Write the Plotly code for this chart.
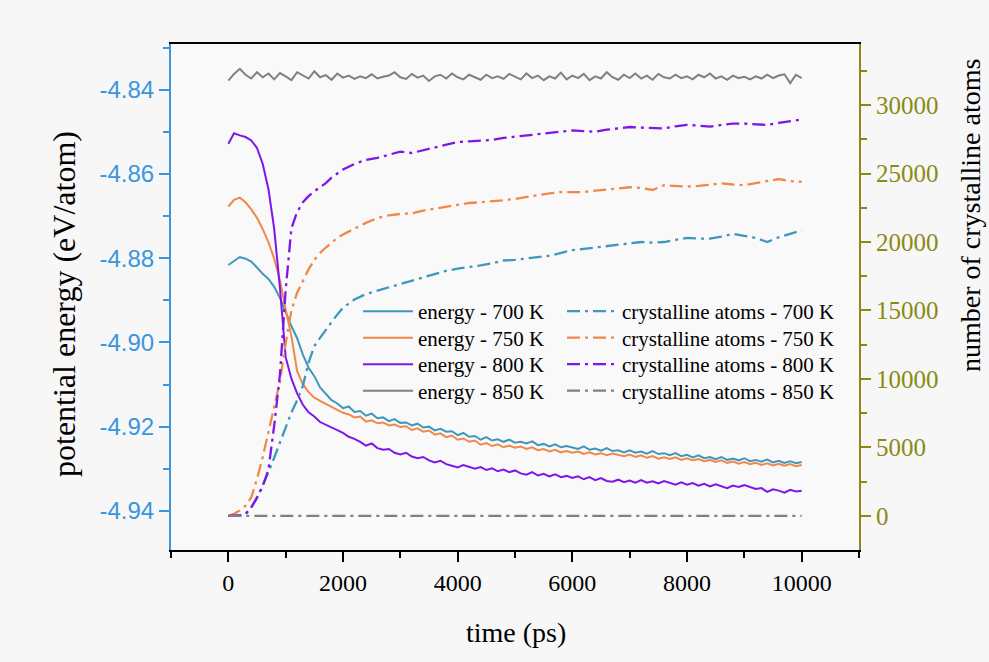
import plotly.graph_objects as go

# ---------------- data ----------------
t_energy = list(range(0, 10001, 100))
t_cryst = list(range(0, 2000, 100)) + list(range(2000, 10001, 200))

e700 = [
    -4.8816, -4.8806, -4.8797, -4.8801, -4.8808, -4.8822, -4.8837, -4.8849, -4.8868, -4.8894,
    -4.8929, -4.8961, -4.8990, -4.9029, -4.9060, -4.9080, -4.9107, -4.9122, -4.9137, -4.9145,
    -4.9156, -4.9152, -4.9165, -4.9163, -4.9174, -4.9169, -4.9180, -4.9178, -4.9187, -4.9182,
    -4.9191, -4.9190, -4.9197, -4.9193, -4.9202, -4.9200, -4.9209, -4.9205, -4.9212, -4.9211,
    -4.9220, -4.9215, -4.9224, -4.9222, -4.9231, -4.9225, -4.9233, -4.9230, -4.9236, -4.9231,
    -4.9238, -4.9236, -4.9240, -4.9235, -4.9244, -4.9241, -4.9247, -4.9242, -4.9249, -4.9246,
    -4.9250, -4.9253, -4.9247, -4.9255, -4.9252, -4.9257, -4.9251, -4.9258, -4.9256, -4.9261,
    -4.9256, -4.9262, -4.9259, -4.9264, -4.9258, -4.9265, -4.9263, -4.9268, -4.9263, -4.9270,
    -4.9267, -4.9273, -4.9268, -4.9275, -4.9272, -4.9277, -4.9272, -4.9279, -4.9276, -4.9280,
    -4.9275, -4.9282, -4.9279, -4.9283, -4.9278, -4.9285, -4.9281, -4.9286, -4.9282, -4.9287,
    -4.9284]

e750 = [
    -4.8677, -4.8661, -4.8656, -4.8667, -4.8684, -4.8704, -4.8731, -4.8762, -4.8801, -4.8852,
    -4.8922, -4.8985, -4.9068, -4.9099, -4.9118, -4.9131, -4.9139, -4.9146, -4.9154, -4.9160,
    -4.9167, -4.9171, -4.9178, -4.9176, -4.9188, -4.9185, -4.9192, -4.9190, -4.9197, -4.9195,
    -4.9201, -4.9199, -4.9208, -4.9204, -4.9212, -4.9209, -4.9219, -4.9216, -4.9225, -4.9221,
    -4.9231, -4.9228, -4.9236, -4.9233, -4.9243, -4.9239, -4.9246, -4.9242, -4.9249, -4.9245,
    -4.9250, -4.9247, -4.9253, -4.9249, -4.9256, -4.9253, -4.9259, -4.9255, -4.9261, -4.9258,
    -4.9262, -4.9259, -4.9265, -4.9261, -4.9266, -4.9263, -4.9268, -4.9264, -4.9267, -4.9270,
    -4.9266, -4.9272, -4.9268, -4.9274, -4.9270, -4.9276, -4.9273, -4.9277, -4.9273, -4.9279,
    -4.9275, -4.9280, -4.9277, -4.9282, -4.9279, -4.9284, -4.9280, -4.9286, -4.9283, -4.9288,
    -4.9284, -4.9289, -4.9286, -4.9291, -4.9287, -4.9292, -4.9288, -4.9293, -4.9289, -4.9294,
    -4.9291]

e800 = [
    -4.8528, -4.8503, -4.8508, -4.8512, -4.8520, -4.8538, -4.8576, -4.8636, -4.8730, -4.8870,
    -4.9035, -4.9086, -4.9121, -4.9148, -4.9166, -4.9176, -4.9189, -4.9196, -4.9203, -4.9210,
    -4.9215, -4.9224, -4.9229, -4.9236, -4.9245, -4.9240, -4.9251, -4.9255, -4.9253, -4.9262,
    -4.9266, -4.9262, -4.9271, -4.9275, -4.9272, -4.9280, -4.9285, -4.9281, -4.9289, -4.9293,
    -4.9297, -4.9291, -4.9296, -4.9300, -4.9296, -4.9303, -4.9299, -4.9306, -4.9302, -4.9308,
    -4.9304, -4.9311, -4.9314, -4.9308, -4.9316, -4.9312, -4.9318, -4.9313, -4.9320, -4.9317,
    -4.9322, -4.9318, -4.9325, -4.9320, -4.9327, -4.9322, -4.9329, -4.9331, -4.9326, -4.9332,
    -4.9328, -4.9333, -4.9327, -4.9333, -4.9330, -4.9335, -4.9329, -4.9334, -4.9338, -4.9332,
    -4.9338, -4.9334, -4.9340, -4.9336, -4.9342, -4.9337, -4.9341, -4.9346, -4.9340, -4.9343,
    -4.9339, -4.9344, -4.9348, -4.9346, -4.9355, -4.9349, -4.9352, -4.9357, -4.9350, -4.9354,
    -4.9352]

e850 = [
    -4.8378, -4.8362, -4.8350, -4.8364, -4.8373, -4.8358, -4.8370, -4.8361, -4.8375, -4.8360,
    -4.8368, -4.8377, -4.8358, -4.8366, -4.8373, -4.8356, -4.8370, -4.8365, -4.8376, -4.8361,
    -4.8371, -4.8366, -4.8374, -4.8368, -4.8372, -4.8363, -4.8373, -4.8369, -4.8366, -4.8358,
    -4.8370, -4.8374, -4.8362, -4.8371, -4.8366, -4.8379, -4.8368, -4.8364, -4.8373, -4.8361,
    -4.8370, -4.8375, -4.8364, -4.8370, -4.8376, -4.8364, -4.8372, -4.8368, -4.8374, -4.8362,
    -4.8368, -4.8375, -4.8361, -4.8372, -4.8366, -4.8377, -4.8368, -4.8373, -4.8359, -4.8375,
    -4.8366, -4.8372, -4.8362, -4.8377, -4.8368, -4.8373, -4.8358, -4.8370, -4.8376, -4.8364,
    -4.8372, -4.8361, -4.8373, -4.8366, -4.8376, -4.8362, -4.8370, -4.8373, -4.8364, -4.8372,
    -4.8368, -4.8375, -4.8364, -4.8370, -4.8361, -4.8373, -4.8368, -4.8376, -4.8366, -4.8372,
    -4.8369, -4.8375, -4.8368, -4.8373, -4.8364, -4.8372, -4.8366, -4.8363, -4.8384, -4.8364,
    -4.8372]

c700 = [
    0, 0, 0, 100, 650, 1300, 2200, 3200, 4250, 5400,
    6550, 7550, 8450, 9500, 11200, 12400, 13000, 13600, 14150, 14700,
    15200, 15800, 16200, 16450, 16700, 16950, 17200, 17450, 17650, 17900,
    18050, 18150, 18300, 18450, 18650, 18700, 18780, 18900, 19000, 19200,
    19400, 19500, 19600, 19700, 19750, 19900, 20000, 19950, 20000, 20150,
    20300, 20250, 20250, 20400, 20600, 20450, 20300, 20000, 20350, 20600,
    20850]

c750 = [
    0, 150, 400, 750, 1350, 2700, 4300, 6100, 8000, 9800,
    12600, 15000, 16300, 17200, 18000, 18700, 19200, 19600, 19950, 20300,
    20550, 21000, 21400, 21750, 21950, 22050, 22100, 22300, 22450, 22600,
    22750, 22850, 22900, 22950, 23050, 23150, 23300, 23400, 23550, 23650,
    23650, 23650, 23750, 23850, 23900, 24000, 23950, 23800, 24150, 24100,
    24050, 24100, 24200, 24280, 24200, 24150, 24300, 24450, 24600, 24450,
    24400]

c800 = [
    0, 0, 50, 150, 600, 1350, 2150, 3400, 6600, 10300,
    16500, 21000, 22200, 22900, 23350, 23700, 24000, 24300, 24700, 25000,
    25300, 25700, 26000, 26150, 26400, 26600, 26500, 26700, 26950, 27100,
    27300, 27350, 27400, 27450, 27600, 27700, 27800, 27850, 27950, 28050,
    28150, 28100, 28050, 28200, 28300, 28400, 28350, 28350, 28300, 28450,
    28550, 28500, 28420, 28550, 28650, 28650, 28600, 28550, 28700, 28850,
    28950]

c850 = [
    0, 0, 0, 0, 0, 0, 0, 0, 0, 0,
    0, 0, 0, 0, 0, 0, 0, 0, 0, 0,
    0, 0, 0, 0, 0, 0, 0, 0, 0, 0,
    0, 0, 0, 0, 0, 0, 0, 0, 0, 0,
    0, 0, 0, 0, 0, 0, 0, 0, 0, 0,
    0, 0, 0, 0, 0, 0, 0, 0, 0, 0,
    0]

temps = ["700 K", "750 K", "800 K", "850 K"]
energy_series = [e700, e750, e800, e850]
cryst_series = [c700, c750, c800, c850]

x_ticks = [0, 2000, 4000, 6000, 8000, 10000]
e_ticks = [-4.94, -4.92, -4.90, -4.88, -4.86, -4.84]
e_ticktext = ["-4.94", "-4.92", "-4.90", "-4.88", "-4.86", "-4.84"]

# ---------------- style ----------------
colors = ["#3f97bd", "#f0884a", "#7f16e9", "#808080"]
BLUE_AX = "#3a96dc"
OLIVE = "#8a8a14"
SERIF = "Liberation Serif"
SANS = "Liberation Sans"
DASHDOT = "13px,5px,3px,5px"

L, R, T, B = 171, 859, 44, 550
W, H = 989, 662


def px_x(p):
    return (p - L) / (R - L)


def px_y(p):
    return (B - p) / (B - T)


legend_font = dict(family=SERIF, size=21, color="black")
row_tops = [291, 317.5, 344, 370.5]
col_left = [358, 562]

fig = go.Figure()
legends = {}
k = 0
for col_i, (prefix, series, yax, dash, width) in enumerate([
        ("energy - ", energy_series, "y", "solid", 2),
        ("crystalline atoms - ", cryst_series, "y2", DASHDOT, 2.3)]):
    xs = t_energy if yax == "y" else t_cryst
    for row_i, (name, ys, colr) in enumerate(zip(temps, series, colors)):
        k += 1
        key = "legend" if k == 1 else "legend%d" % k
        fig.add_trace(go.Scatter(
            x=xs, y=ys, mode="lines", name=prefix + name,
            line=dict(color=colr, width=width, dash=dash), yaxis=yax,
            legend=key))
        legends[key] = dict(
            x=px_x(col_left[col_i]), y=px_y(row_tops[row_i]),
            xanchor="left", yanchor="top", bgcolor="rgba(0,0,0,0)",
            font=legend_font, itemwidth=50)

fig.update_layout(
    width=W, height=H,
    margin=dict(l=L, r=W - R, t=T, b=H - B, pad=0),
    paper_bgcolor="#f7f7f7",
    plot_bgcolor="#f9f9f9",
    showlegend=True,
    xaxis=dict(
        range=[-1000, 11000], tickvals=x_ticks, tickformat="d",
        ticks="outside", ticklen=10,
        tickwidth=2, tickcolor="black", showline=True, linecolor="black",
        linewidth=2, mirror=True, showgrid=False, zeroline=False,
        tickfont=dict(family=SERIF, size=24, color="black"),
        minor=dict(dtick=1000, tick0=0, ticks="outside", ticklen=6,
                   tickwidth=2, tickcolor="black", showgrid=False),
    ),
    yaxis=dict(
        range=[-4.9493, -4.8291], tickvals=e_ticks, ticktext=e_ticktext,
        ticks="outside", ticklen=10, tickwidth=2, tickcolor=BLUE_AX,
        showline=True, linecolor=BLUE_AX, linewidth=2, showgrid=False,
        zeroline=False, tickfont=dict(family=SANS, size=24, color=BLUE_AX),
        minor=dict(dtick=0.01, tick0=-4.84, ticks="outside", ticklen=6,
                   tickwidth=2, tickcolor=BLUE_AX, showgrid=False),
    ),
    yaxis2=dict(
        overlaying="y", side="right", range=[-2490, 34460], tick0=0,
        dtick=5000, tickformat="d", ticks="outside", ticklen=10, tickwidth=2,
        tickcolor=OLIVE, showline=True, linecolor=OLIVE, linewidth=2,
        showgrid=False, zeroline=False,
        tickfont=dict(family=SERIF, size=25, color=OLIVE),
        minor=dict(dtick=2500, tick0=0, ticks="outside", ticklen=6,
                   tickwidth=2, tickcolor=OLIVE, showgrid=False),
    ),
    annotations=[
        dict(text="time (ps)", x=px_x(516), y=px_y(632), xref="paper",
             yref="paper", showarrow=False, xanchor="center", yanchor="middle",
             font=dict(family=SERIF, size=28, color="black")),
        dict(text="potential energy (eV/atom)", x=px_x(64), y=px_y(304),
             xref="paper", yref="paper", showarrow=False, textangle=-90,
             xanchor="center", yanchor="middle",
             font=dict(family=SERIF, size=32, color="black")),
        dict(text="number of crystalline atoms", x=px_x(970), y=px_y(216),
             xref="paper", yref="paper", showarrow=False, textangle=-90,
             xanchor="center", yanchor="middle",
             font=dict(family=SERIF, size=28, color="black")),
    ],
    **legends,
)

fig.write_html("out.html")
